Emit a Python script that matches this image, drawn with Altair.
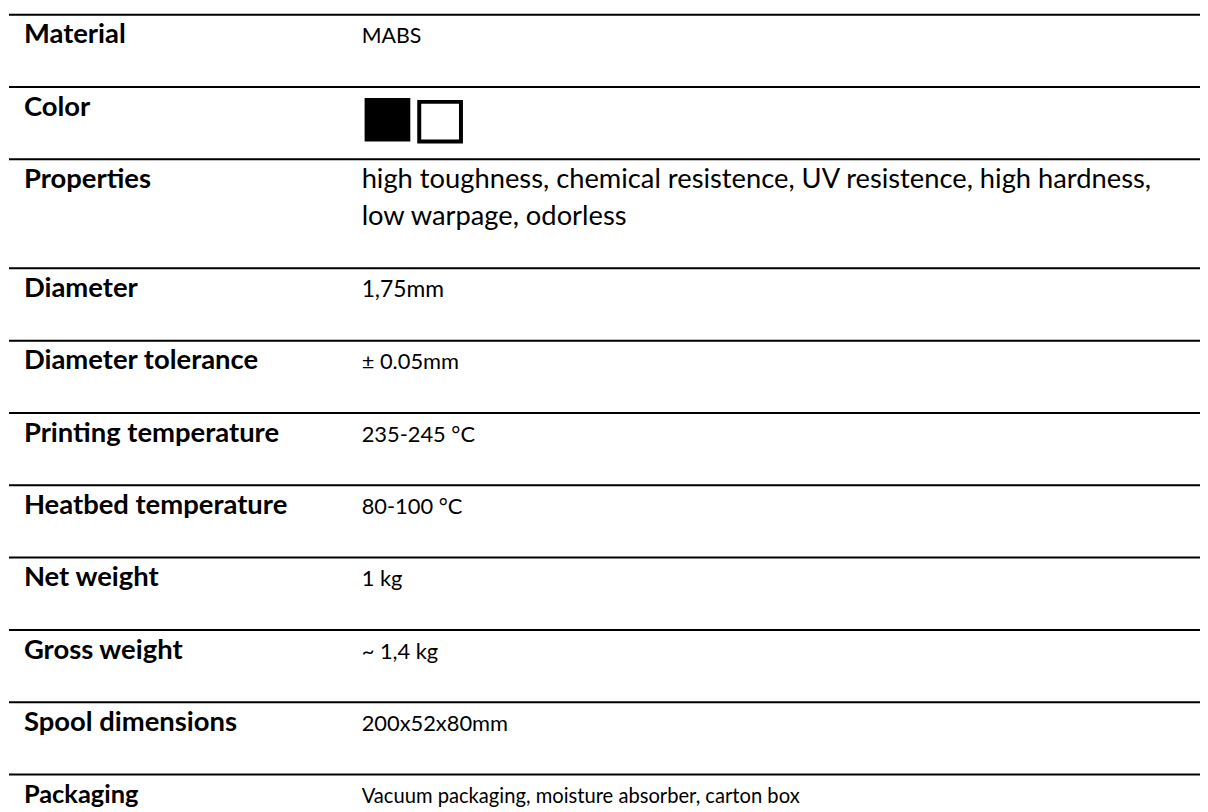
import altair as alt
import pandas as pd

# ---- data ----
labels = [
    "Material", "Color", "Properties", "Diameter", "Diameter tolerance",
    "Printing temperature", "Heatbed temperature", "Net weight",
    "Gross weight", "Spool dimensions", "Packaging",
]
values = [
    ["MABS"],
    [],
    ["high toughness, chemical resistence, UV resistence, high hardness,",
     "low warpage, odorless"],
    ["1,75mm"],
    ["± 0.05mm"],
    ["235-245 °C"],
    ["80-100 °C"],
    ["1 kg"],
    ["~ 1,4 kg"],
    ["200x52x80mm"],
    ["Vacuum packaging, moisture absorber, carton box"],
]
swatch_colors = ["#000000", "#ffffff"]
swatch_row = "Color"

# ---- layout / style (page pixels) ----
TOP = 12.0
ROW_H = 72.8
LINE_H = 37.0
BASE = 29.0
LABEL_X = 24
VALUE_X = 364
FONT = "Lato"
LABEL_SIZE = 27.6
VALUE_SIZE = 22.0
LABEL_SIZE_OVERRIDE = {"Packaging": 25.6}
VALUE_SIZE_OVERRIDE = {"Properties": 27.5, "Packaging": 20.3, "Diameter": 23.0,
                       "Material": 21.5}

tops = []
y = TOP
for v in values:
    tops.append(y)
    y += ROW_H + LINE_H * (max(1, len(v)) - 1)

label_df = pd.DataFrame({
    "label": labels, "x": LABEL_X,
    "y": [t + BASE for t in tops],
    "fs": [LABEL_SIZE_OVERRIDE.get(l, LABEL_SIZE) for l in labels],
})
val_rows = []
for l, t, v in zip(labels, tops, values):
    for k, line in enumerate(v):
        val_rows.append({"text": line, "x": VALUE_X, "y": t + BASE + k * LINE_H,
                         "fs": VALUE_SIZE_OVERRIDE.get(l, VALUE_SIZE)})
value_df = pd.DataFrame(val_rows)
rule_df = pd.DataFrame({"y": tops, "x": 9, "x2": 1208})

ci = labels.index(swatch_row)
sw_rows = []
for i, c in enumerate(swatch_colors):
    x0 = 369 + i * 52
    sw_rows.append({"color": c, "x": x0 + (1 if i else 0), "x2": x0 + (43 if i else 42),
                    "y": tops[ci] + 13 + (2 if i else 0), "y2": tops[ci] + 53 + (2 if i else 0)})
sw_df = pd.DataFrame(sw_rows)

W, H = 1200, 804
xs = alt.Scale(domain=[8, 8 + W], range=[0, W])
ys = alt.Scale(domain=[8, 8 + H], range=[0, H])

rules = alt.Chart(rule_df).mark_rule(color="#000000", strokeWidth=2).encode(
    x=alt.X("x:Q", scale=xs, axis=None),
    x2="x2:Q",
    y=alt.Y("y:Q", scale=ys, axis=None),
)

lab = alt.Chart(label_df).mark_text(
    align="left", baseline="alphabetic", font=FONT,
    fontWeight="bold", color="#000000",
).encode(
    x=alt.X("x:Q", scale=xs, axis=None),
    y=alt.Y("y:Q", scale=ys, axis=None),
    text="label:N",
    size=alt.Size("fs:Q", scale=None, legend=None),
)

val = alt.Chart(value_df).mark_text(
    align="left", baseline="alphabetic", font=FONT,
    color="#000000",
).encode(
    x=alt.X("x:Q", scale=xs, axis=None),
    y=alt.Y("y:Q", scale=ys, axis=None),
    text="text:N",
    size=alt.Size("fs:Q", scale=None, legend=None),
)

sw = alt.Chart(sw_df).mark_rect(stroke="#000000", strokeWidth=4).encode(
    x=alt.X("x:Q", scale=xs, axis=None),
    x2="x2:Q",
    y=alt.Y("y:Q", scale=ys, axis=None),
    y2="y2:Q",
    fill=alt.Fill("color:N", scale=None, legend=None),
)

chart = alt.layer(rules, sw, lab, val).properties(
    width=W, height=H, padding=0,
    autosize=alt.AutoSizeParams(type="none"),
).configure_view(stroke="transparent")

chart.save("out.html", embed_options={"renderer": "svg", "actions": False})
